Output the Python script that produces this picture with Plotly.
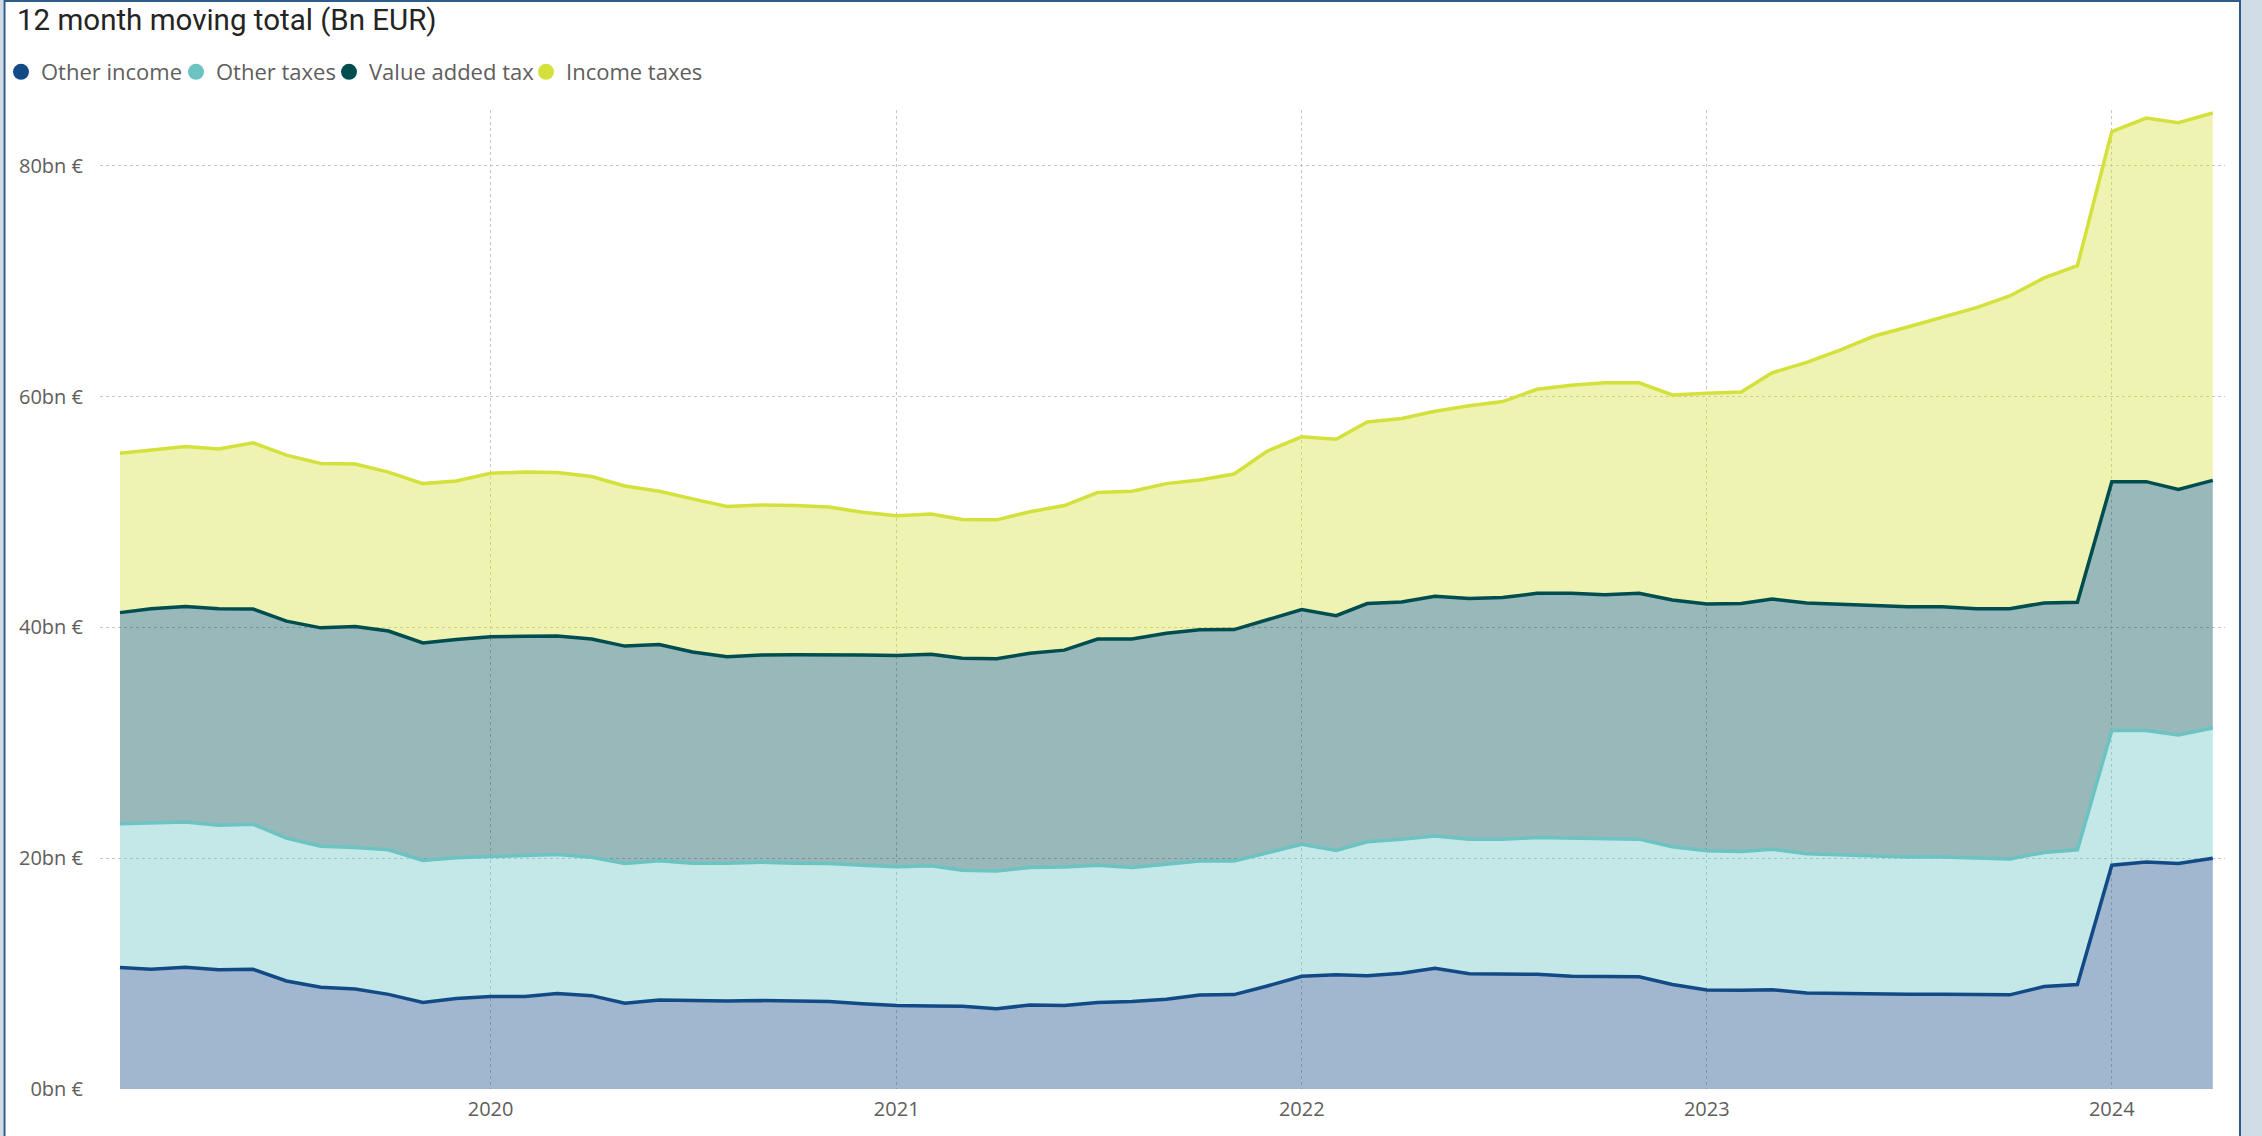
import pandas as pd
import plotly.graph_objects as go

# ---- data (Bn EUR, 12 month moving totals), monthly Feb 2019 .. Apr 2024 ----
months = pd.date_range("2019-02-01", "2024-04-01", freq="MS")

other_income = [
    10.52, 10.37, 10.56, 10.33, 10.37, 9.36, 8.82, 8.67, 8.20, 7.50, 7.85,
    8.01, 8.01, 8.28, 8.09, 7.43, 7.72, 7.66, 7.62, 7.66, 7.62, 7.58, 7.39,
    7.23, 7.20, 7.16, 6.96, 7.27, 7.23, 7.50, 7.58, 7.78, 8.15, 8.18, 8.93,
    9.77, 9.90, 9.81, 10.03, 10.47, 9.99, 9.94, 9.94, 9.77, 9.72, 9.72, 9.06,
    8.57, 8.55, 8.60, 8.32, 8.27, 8.27, 8.21, 8.21, 8.21, 8.16, 8.88, 9.05,
    19.39, 19.66, 19.55, 20.00,
]
other_taxes = [
    12.46, 12.69, 12.57, 12.53, 12.57, 12.38, 12.22, 12.26, 12.53, 12.31, 12.19,
    12.14, 12.22, 12.03, 11.99, 12.11, 12.05, 11.91, 11.95, 11.99, 11.95, 11.96, 11.99,
    12.03, 12.14, 11.80, 11.92, 11.92, 12.00, 11.88, 11.61, 11.72, 11.61, 11.57, 11.53,
    11.44, 10.78, 11.62, 11.62, 11.45, 11.66, 11.71, 11.85, 11.97, 11.93, 11.93, 11.93,
    12.07, 12.04, 12.18, 12.07, 12.01, 11.90, 11.90, 11.90, 11.79, 11.78, 11.62, 11.68,
    11.67, 11.40, 11.12, 11.28,
]
value_added_tax = [
    18.30, 18.56, 18.69, 18.76, 18.65, 18.80, 18.92, 19.15, 18.96, 18.84, 18.92,
    19.04, 19.00, 18.95, 18.91, 18.84, 18.74, 18.30, 17.88, 17.95, 18.07, 18.10, 18.22,
    18.30, 18.34, 18.37, 18.41, 18.57, 18.80, 19.61, 19.80, 20.00, 20.03, 20.06, 20.19,
    20.33, 20.33, 20.64, 20.55, 20.77, 20.86, 20.95, 21.16, 21.21, 21.17, 21.30, 21.39,
    21.38, 21.48, 21.68, 21.73, 21.73, 21.79, 21.68, 21.68, 21.62, 21.68, 21.62, 21.45,
    21.57, 21.57, 21.29, 21.46,
]
income_taxes = [
    13.81, 13.78, 13.85, 13.85, 14.41, 14.39, 14.24, 14.08, 13.77, 13.81, 13.73,
    14.16, 14.23, 14.16, 14.09, 13.88, 13.29, 13.27, 13.03, 13.00, 12.92, 12.80, 12.38,
    12.11, 12.15, 12.03, 12.03, 12.26, 12.53, 12.69, 12.81, 12.96, 12.98, 13.48, 14.63,
    14.98, 15.29, 15.73, 15.91, 16.04, 16.70, 16.97, 17.68, 18.03, 18.38, 18.25, 17.76,
    18.27, 18.33, 19.61, 20.84, 22.01, 23.29, 24.24, 25.08, 26.09, 27.10, 28.16, 29.16,
    30.33, 31.50, 31.78, 31.84,
]

series_names = ["Other income", "Other taxes", "Value added tax", "Income taxes"]
series_values = [other_income, other_taxes, value_added_tax, income_taxes]
line_colors = ["#124A86", "#6BC3C2", "#004D50", "#D4E13C"]
fill_colors = ["rgba(18,74,134,0.40)", "rgba(107,195,194,0.40)",
               "rgba(0,77,80,0.40)", "rgba(212,225,60,0.40)"]

y_ticks = [0, 20, 40, 60, 80]
y_tick_text = ["0bn €", "20bn €", "40bn €", "60bn €", "80bn €"]
x_ticks = ["2020-01-01", "2021-01-01", "2022-01-01", "2023-01-01", "2024-01-01"]
x_tick_text = ["2020", "2021", "2022", "2023", "2024"]

# ---- figure ----
W, H = 2262, 1136
L, R, T, B = 100, 37, 110, 47
plot_w = W - L - R
plot_h = H - T - B

def px_x(px):
    return (px - L) / plot_w

def px_y(py):
    return (H - B - py) / plot_h

legend_ids = ["legend", "legend2", "legend3", "legend4"]
legend_px = [1, 176, 329, 526]   # left pixel of each legend entry

fig = go.Figure()
for name, vals, lc, fc in zip(series_names, series_values, line_colors, fill_colors):
    fig.add_trace(go.Scatter(
        x=months, y=vals, name=name, mode="lines", stackgroup="one",
        line=dict(color=lc, width=3.5), fillcolor=fc, showlegend=False,
    ))
# legend entries (round markers like the original)
for name, lc, lid in zip(series_names, line_colors, legend_ids):
    fig.add_trace(go.Scatter(
        x=[None], y=[None], name=name, mode="markers", legend=lid,
        marker=dict(color=lc, size=16, symbol="circle"), showlegend=True,
    ))

grid_col = "#C8C6C4"
text_col = "#605E5C"

band = "#D0DCE6"
border = "#2E5C8A"
shapes = [
    dict(type="rect", xref="paper", yref="paper", x0=px_x(0), x1=px_x(3.5),
         y0=px_y(H), y1=px_y(0), fillcolor=band, line=dict(width=0), layer="above"),
    dict(type="rect", xref="paper", yref="paper", x0=px_x(2241), x1=px_x(W),
         y0=px_y(H), y1=px_y(0), fillcolor=band, line=dict(width=0), layer="above"),
    dict(type="line", xref="paper", yref="paper", x0=px_x(4.5), x1=px_x(4.5),
         y0=px_y(H), y1=px_y(0), line=dict(color=border, width=2), layer="above"),
    dict(type="line", xref="paper", yref="paper", x0=px_x(2240), x1=px_x(2240),
         y0=px_y(H), y1=px_y(0), line=dict(color=border, width=2), layer="above"),
    dict(type="line", xref="paper", yref="paper", x0=px_x(4), x1=px_x(2240),
         y0=px_y(1), y1=px_y(1), line=dict(color=border, width=2), layer="above"),
]

legend_style = dict(orientation="h", xanchor="left", y=px_y(72), yanchor="middle",
                    itemsizing="trace",
                    font=dict(size=22, color=text_col, family="Open Sans, sans-serif"),
                    bgcolor="rgba(0,0,0,0)", borderwidth=0, itemwidth=30)
legends = {lid: dict(legend_style, x=px_x(xp)) for lid, xp in zip(legend_ids, legend_px)}

fig.update_layout(
    width=W, height=H,
    margin=dict(l=L, r=R, t=T, b=B, autoexpand=False),
    paper_bgcolor="white", plot_bgcolor="white",
    font=dict(family="Open Sans, Segoe UI, sans-serif", color=text_col, size=20),
    title=dict(text="12 month moving total (Bn EUR)", xref="container", yref="container",
               x=17 / W, xanchor="left", y=1 - 20 / H, yanchor="middle",
               font=dict(family="Roboto, DejaVu Sans, sans-serif", size=29.5, color="#252423")),
    showlegend=True,
    hovermode="x unified",
    shapes=shapes,
    **legends,
)
fig.update_xaxes(
    type="date", range=["2019-01-14", "2024-04-12"],
    tickvals=x_ticks, ticktext=x_tick_text,
    showgrid=True, gridcolor=grid_col, griddash="dot", gridwidth=1,
    showline=False, zeroline=False, ticks="", ticklabelstandoff=6,
    tickfont=dict(size=20, color=text_col),
)
fig.update_yaxes(
    range=[0, plot_h / 11.54],
    tickvals=y_ticks, ticktext=y_tick_text,
    showgrid=True, gridcolor=grid_col, griddash="dot", gridwidth=1,
    showline=False, zeroline=False, ticks="", ticklabelstandoff=16,
    tickfont=dict(size=20, color=text_col),
)

fig.write_html(
    "out.html",
    config={"displayModeBar": False},
    post_script="document.body.style.margin='0';document.body.style.overflow='hidden';",
)
